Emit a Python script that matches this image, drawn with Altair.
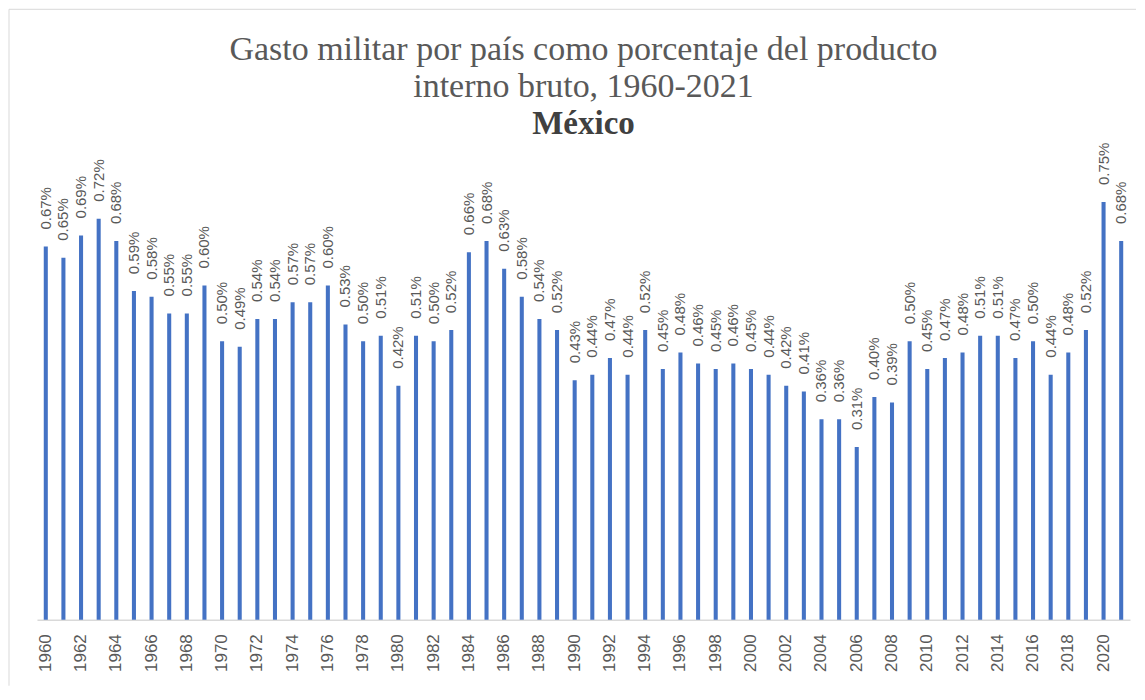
import altair as alt
import pandas as pd

years = list(range(1960, 2022))
values = [0.67, 0.65, 0.69, 0.72, 0.68, 0.59, 0.58, 0.55, 0.55, 0.60,
          0.50, 0.49, 0.54, 0.54, 0.57, 0.57, 0.60, 0.53, 0.50, 0.51,
          0.42, 0.51, 0.50, 0.52, 0.66, 0.68, 0.63, 0.58, 0.54, 0.52,
          0.43, 0.44, 0.47, 0.44, 0.52, 0.45, 0.48, 0.46, 0.45, 0.46,
          0.45, 0.44, 0.42, 0.41, 0.36, 0.36, 0.31, 0.40, 0.39, 0.50,
          0.45, 0.47, 0.48, 0.51, 0.51, 0.47, 0.50, 0.44, 0.48, 0.52,
          0.75, 0.68]
tick_years = list(range(1960, 2022, 2))
title_lines = ["Gasto militar por país como porcentaje del producto",
               "interno bruto, 1960-2021"]
subtitle = "México"

W, H = 1094, 446
df = pd.DataFrame({"year": years, "v": values})

x = alt.X("year:O", title=None,
          scale=alt.Scale(paddingInner=0.77, paddingOuter=0.385),
          axis=alt.Axis(values=tick_years, labelAngle=270, labelFont="Liberation Sans",
                        labelFontSize=17, labelColor="#595959", ticks=False, tickSize=0,
                        labelPadding=14, domainColor="#d9d9d9", domainWidth=1.5))
y = alt.Y("v:Q", title=None, scale=alt.Scale(domain=[0, 0.8], nice=False), axis=None)

base = alt.Chart(df).encode(x=x, y=y)
bars = base.mark_bar(color="#4472C4")
labels = base.transform_calculate(
    label="format(datum.v, '.2f') + '%'"
).mark_text(angle=270, align="left", baseline="middle", dx=17,
            font="Liberation Sans", fontSize=15, color="#595959").encode(text="label:N")

one = pd.DataFrame({"k": [0]})
t1 = alt.Chart(one).mark_text(text=title_lines[0], font="Liberation Serif", fontSize=34,
                              color="#595959", align="center", baseline="alphabetic").encode(
    x=alt.value(W / 2), y=alt.value(-114))
t2 = alt.Chart(one).mark_text(text=title_lines[1], font="Liberation Serif", fontSize=34,
                              color="#595959", align="center", baseline="alphabetic").encode(
    x=alt.value(W / 2), y=alt.value(-77))
t3 = alt.Chart(one).mark_text(text=subtitle, font="Liberation Serif", fontSize=33,
                              fontWeight="bold", color="#404040", align="center",
                              baseline="alphabetic").encode(
    x=alt.value(W / 2), y=alt.value(-40))
top_rule = alt.Chart(one).mark_rule(color="#d9d9d9", strokeWidth=1).encode(
    x=alt.value(-28), x2=alt.value(W + 6), y=alt.value(-165))
left_rule = alt.Chart(one).mark_rule(color="#d9d9d9", strokeWidth=1).encode(
    x=alt.value(-28), y=alt.value(-165), y2=alt.value(H + 66))

chart = alt.layer(bars, labels, t1, t2, t3, top_rule, left_rule).properties(
    width=W, height=H, padding=0, background="white"
).configure_view(stroke=None)

chart.save("out.html", embed_options={"renderer": "svg", "actions": False})
